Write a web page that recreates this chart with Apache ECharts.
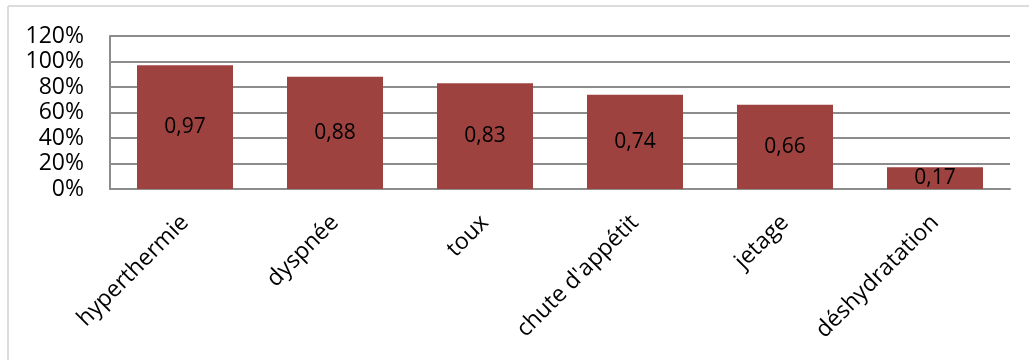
<!DOCTYPE html>
<html>
<head>
<meta charset="utf-8">
<script src="https://cdn.jsdelivr.net/npm/echarts@6/dist/echarts.min.js"></script>
<style>
  html, body { margin: 0; padding: 0; background: #fff; }
  #chart { width: 1029px; height: 360px; }
</style>
</head>
<body>
<div id="chart"></div>
<script>
var categories = ['hyperthermie', 'dyspnée', 'toux', "chute d'appétit", 'jetage', 'déshydratation'];
var values = [0.97, 0.88, 0.83, 0.74, 0.66, 0.17];

var myChart = echarts.init(document.getElementById('chart'));
var font = 'Open Sans';

myChart.setOption({
    animation: false,
    grid: { left: 110, right: 19, top: 36, bottom: 171 },
    graphic: [
        // cadre du graphique (haut et gauche seulement)
        { type: 'line', shape: { x1: 8, y1: 6, x2: 1029, y2: 6 }, style: { stroke: '#dcdcdc', lineWidth: 2 } },
        { type: 'line', shape: { x1: 8, y1: 6, x2: 8, y2: 360 }, style: { stroke: '#dcdcdc', lineWidth: 2 } }
    ],
    xAxis: {
        type: 'category',
        data: categories,
        axisLine: { show: true, lineStyle: { color: '#8c8c8c', width: 2 } },
        axisTick: { show: false },
        axisLabel: {
            rotate: 45,
            interval: 0,
            color: '#000',
            fontFamily: font,
            fontSize: 23,
            margin: 30
        }
    },
    yAxis: {
        type: 'value',
        min: 0,
        max: 1.2,
        interval: 0.2,
        axisLine: { show: true, lineStyle: { color: '#8c8c8c', width: 2 } },
        axisTick: { show: false },
        splitLine: { lineStyle: { color: '#8c8c8c', width: 2 } },
        axisLabel: {
            color: '#000',
            fontFamily: font,
            fontSize: 23,
            margin: 26,
            formatter: function (v) { return Math.round(v * 100) + '%'; }
        }
    },
    series: [{
        type: 'bar',
        data: values,
        barCategoryGap: '36%',
        itemStyle: { color: '#9e4240' },
        label: {
            show: true,
            position: 'inside',
            color: '#000',
            fontFamily: font,
            fontSize: 21,
            formatter: function (p) { return p.value.toFixed(2).replace('.', ','); }
        }
    }]
});
</script>
</body>
</html>
